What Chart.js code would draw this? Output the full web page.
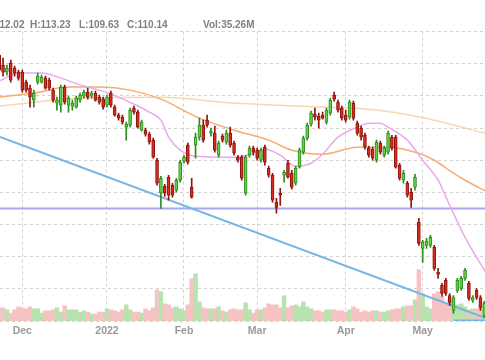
<!DOCTYPE html>
<html>
<head>
<meta charset="utf-8">
<script src="https://cdn.jsdelivr.net/npm/chart.js@4/dist/chart.umd.min.js"></script>
<style>
    html, body { margin: 0; padding: 0; background: #fff; overflow: hidden; }
    #wrap { position: relative; width: 485px; height: 360px; overflow: hidden; }
    .quote { position: absolute; top: 18.5px; font: bold 10px "Liberation Sans", Arial, sans-serif;
             color: #808080; white-space: nowrap; line-height: 12px; }
</style>
</head>
<body>
<div id="wrap">
    <canvas id="js--chart" width="485" height="360"></canvas>
    <span class="quote" style="left:-16.7px">O:112.02</span>
    <span class="quote" style="left:30px">H:113.23</span>
    <span class="quote" style="left:79px">L:109.63</span>
    <span class="quote" style="left:127px">C:110.14</span>
    <span class="quote" style="left:203px">Vol:35.26M</span>
</div>
<script>
// trading day index 0 = 1 Dec 2021, the first candle is 6 sessions earlier
const firstDay = -6

const opens = [146.36,144.80,143.71,145.11,144.33,143.71,
    143.71,142.15,141.22,139.35,142.15,142.15,142.77,142.46,140.90,138.88,
    138.57,141.37,138.57,138.41,138.26,139.35,139.97,140.59,139.97,140.44,
    139.81,139.50,138.57,140.44,138.26,137.01,136.70,135.14,135.45,138.10,
    137.48,134.67,134.67,134.05,133.12,130.00,124.86,125.95,127.35,126.11,
    125.33,126.89,129.85,132.34,125.80,132.34,133.58,135.45,136.23,134.21,
    134.21,130.78,133.74,132.80,134.21,132.65,130.47,130.47,124.86,130.78,
    131.87,131.56,130.00,132.03,128.75,127.66,123.46,124.86,127.66,129.53,
    127.98,126.42,128.91,131.25,133.43,135.61,137.17,136.85,137.01,135.92,
    137.32,140.13,139.03,138.10,137.01,136.70,138.88,135.76,134.99,133.89,
    131.87,131.71,130.00,132.65,130.78,131.25,133.58,133.58,129.22,126.89,
    126.42,125.02,125.80,120.34,116.29,116.76,116.76,116.45,112.56,110.53,
    111.31,108.97,106.64,109.75,110.06,111.62,110.84,108.19,109.75,108.66,
    105.86]

const highs = [147.13,145.89,144.80,145.58,144.64,144.02,
    144.02,142.46,141.68,140.90,143.55,143.24,143.08,142.77,141.22,139.81,
    141.68,141.68,139.97,139.35,139.97,140.44,140.90,141.22,140.75,140.75,
    140.13,139.81,140.13,140.75,138.57,137.32,137.01,135.92,138.10,138.41,
    137.79,136.23,134.99,134.36,133.43,130.31,127.51,126.26,127.66,126.42,
    127.20,130.00,130.78,132.65,127.20,134.21,136.54,136.23,137.01,134.99,
    135.30,132.96,134.05,134.67,135.14,132.96,130.78,130.78,130.78,132.18,
    132.18,131.87,131.87,132.34,129.07,127.98,124.08,125.64,128.44,130.00,
    128.44,129.07,131.87,133.74,135.76,137.63,138.10,137.32,137.48,138.10,
    139.66,140.59,139.35,138.41,137.79,139.35,139.19,136.08,135.30,134.21,
    132.18,132.03,133.12,132.96,132.18,134.52,133.89,133.89,129.53,128.44,
    126.73,125.64,127.82,120.97,117.54,117.85,118.32,116.76,113.18,110.84,
    111.62,109.28,108.97,111.62,111.93,113.18,111.15,108.97,110.06,108.97,
    108.04]

const lows = [143.40,143.08,143.24,142.15,143.08,142.46,
    140.59,140.59,138.26,138.26,141.84,141.99,141.06,140.90,139.03,137.79,
    137.48,138.72,137.48,137.79,138.10,139.03,139.66,139.50,139.66,139.19,
    138.72,137.94,138.26,138.26,136.85,136.23,135.61,133.12,135.14,137.17,
    134.99,134.52,133.74,132.49,130.31,126.11,122.52,124.39,123.77,124.24,
    125.02,126.57,129.53,129.38,124.08,130.31,133.12,132.80,135.14,133.74,
    131.25,130.47,132.80,132.49,132.03,130.78,129.69,126.89,124.55,130.47,
    130.78,130.00,129.69,129.22,127.35,123.46,121.75,122.99,126.57,127.20,
    125.48,126.11,128.75,130.94,133.12,135.30,136.23,134.99,136.39,135.61,
    137.01,139.19,137.48,136.23,135.92,136.39,136.23,133.89,133.12,131.71,
    130.47,130.00,129.69,130.94,130.47,130.94,131.56,128.75,126.89,126.42,
    124.24,122.68,125.33,116.76,114.11,116.29,116.45,112.87,111.62,108.82,
    108.97,107.42,106.17,109.44,109.75,111.31,108.19,107.88,108.35,106.64,
    105.55]

const closes = [144.02,143.71,144.33,142.46,143.55,142.77,
    140.90,140.90,139.81,140.44,143.08,142.93,141.22,141.22,139.35,139.35,
    141.37,139.03,139.66,138.88,139.66,140.13,140.59,139.81,140.44,139.35,
    139.03,138.26,139.81,138.57,137.01,136.54,135.92,135.61,137.79,137.48,
    135.14,135.92,134.05,132.80,130.47,126.42,127.20,124.86,124.55,124.55,
    126.89,129.69,130.47,129.69,124.24,133.58,135.45,133.12,135.45,134.52,
    131.56,132.65,133.12,134.21,132.34,131.09,130.00,127.20,130.47,131.87,
    131.25,130.31,131.56,129.69,127.66,123.77,122.68,124.55,128.13,127.35,
    125.80,128.75,131.56,133.43,135.45,137.32,136.70,136.23,136.54,137.79,
    139.35,139.50,137.79,136.54,136.23,139.03,136.54,134.21,133.58,132.03,
    130.78,130.31,132.80,131.25,131.87,134.21,131.87,128.91,127.20,127.98,
    124.55,123.77,127.35,117.07,117.23,117.38,118.01,113.18,112.24,109.28,
    109.28,107.88,108.66,111.31,111.62,112.87,108.51,108.66,108.66,107.10,
    107.73]

// volume in millions
const volumes = [32.5,32.5,27.5,20,27.5,35,
    32.5,30,35,30,30,20,25,25,27.5,32.5,
    22.5,37.5,27.5,27.5,27.5,22.5,25,22.5,17.5,17.5,
    22.5,22.5,30,27.5,25,22.5,27.5,40,27.5,22.5,
    22.5,20,30,25,32.5,77.5,72.5,42.5,40,32.5,
    35,30,25,40,105,117.5,47.5,32.5,30,30,
    30,35,25,22.5,27.5,30,27.5,27.5,45,27.5,
    20,27.5,27.5,32.5,42.5,40,40,32.5,62.5,32.5,
    37.5,40,35,47.5,35,30,25,25,22.5,27.5,
    27.5,27.5,25,25,22.5,27.5,35,30,22.5,25,
    22.5,25,25,22.5,22.5,25,27.5,30,30,35,
    37.5,37.5,52.5,127.5,67.5,35,30,67.5,72.5,60,
    42.5,52.5,40,40,42.5,35,27.5,30,30,40,
    35.26]

const monthTicks = [0, 22, 42, 61, 84, 104]
const monthLabels = ["Dec", "2022", "Feb", "Mar", "Apr", "May"]

// moving averages
const ma20Days = [-6, -1, 5, 10, 16, 20, 25, 29, 33, 36, 38, 41, 45, 56, 60, 63, 67, 71, 75, 78, 82, 87, 90, 93, 95, 100, 104, 108, 111, 115, 121]
const ma20 = [142.30, 143.55, 143.55, 142.77, 141.53, 140.90, 139.81, 138.72, 137.48, 136.23, 133.58, 131.56, 130.62, 130.47, 131.09, 131.71, 130.78, 129.07, 129.53, 130.94, 133.58, 135.14, 135.76, 135.76, 135.14, 133.12, 130.00, 126.89, 122.99, 118.01, 111.93]

const ma50Days = [-6, 3, 12, 20, 28, 36, 46, 55, 64, 70, 78, 87, 95, 103, 107, 112, 115, 121]
const ma50 = [139.81, 140.44, 141.37, 141.37, 140.90, 139.50, 136.54, 134.67, 133.12, 131.56, 130.94, 132.03, 132.03, 131.09, 130.00, 127.98, 126.89, 125.02]

const ma200Days = [-6, 16, 36, 55, 78, 87, 98, 107, 121]
const ma200 = [138.41, 139.66, 139.81, 138.88, 138.26, 138.10, 137.32, 136.23, 134.05]

const trendDays = [-5.79, 120.18]
const trendPrices = [133.63, 105.50]
const supportPrice = 122.48
const floorDays = [112, 121]
const floorPrice = 105.08

const days = opens.map(function (o, k) { return firstDay + k })
const isUp = opens.map(function (o, k) { return closes[k] >= o })

const upFill = "#63d43f"
const upEdge = "#2f8a22"
const downFill = "#d92b1e"
const downEdge = "#8c160e"

function points(xs, ys) {
    return xs.map(function (x, k) { return { x: x, y: ys[k] } })
}

Chart.defaults.font.family = "'Liberation Sans', Arial, sans-serif"

const data = {
    datasets: [
        {
            type: "bar",
            data: days.map(function (d, k) { return { x: d, y: [opens[k], closes[k]] } }),
            backgroundColor: isUp.map(function (u) { return u ? upFill : downFill }),
            borderColor: isUp.map(function (u) { return u ? upEdge : downEdge }),
            borderWidth: 1,
            borderSkipped: false,
            barThickness: 3,
            minBarLength: 1,
            grouped: false,
            order: 0
        },
        {
            type: "bar",
            data: days.map(function (d, k) { return { x: d, y: [lows[k], highs[k]] } }),
            backgroundColor: isUp.map(function (u) { return u ? upEdge : downEdge }),
            borderWidth: 0,
            barThickness: 1,
            grouped: false,
            order: 1
        },
        {
            type: "line",
            data: points(ma20Days, ma20),
            borderColor: "#eaa8ec",
            borderWidth: 1.5,
            pointRadius: 0,
            cubicInterpolationMode: "monotone",
            order: 2
        },
        {
            type: "line",
            data: points(ma50Days, ma50),
            borderColor: "#f6ab72",
            borderWidth: 1.5,
            pointRadius: 0,
            cubicInterpolationMode: "monotone",
            order: 3
        },
        {
            type: "line",
            data: points(ma200Days, ma200),
            borderColor: "#f8d8b0",
            borderWidth: 1.5,
            pointRadius: 0,
            cubicInterpolationMode: "monotone",
            order: 4
        },
        {
            type: "line",
            data: points(trendDays, trendPrices),
            borderColor: "#72b6e6",
            borderWidth: 2,
            pointRadius: 0,
            order: 5
        },
        {
            type: "line",
            data: points([-6, 121], [supportPrice, supportPrice]),
            borderColor: "#aaa6ec",
            borderWidth: 2,
            pointRadius: 0,
            order: 6
        },
        {
            type: "line",
            data: points(floorDays, [floorPrice, floorPrice]),
            borderColor: "#72b6e6",
            borderWidth: 2,
            pointRadius: 0,
            order: 7
        },
        {
            type: "bar",
            yAxisID: "vol",
            data: points(days, volumes),
            backgroundColor: isUp.map(function (u) { return u ? "#b8e2ae" : "#f5c3c1" }),
            borderWidth: 0,
            barPercentage: 1,
            categoryPercentage: 1,
            grouped: false,
            order: 10
        }
    ]
}

const config = {
    type: "bar",
    data: data,
    options: {
        responsive: false,
        animation: false,
        events: [],
        layout: { padding: { top: 31.6, bottom: 18.4, left: 0, right: 0 } },
        plugins: { legend: { display: false }, tooltip: { enabled: false } },
        scales: {
            x: {
                type: "linear",
                offset: false,
                min: -5.79,
                max: 120.18,
                afterBuildTicks: function (scale) {
                    scale.ticks = monthTicks.map(function (v) { return { value: v } })
                },
                ticks: {
                    autoSkip: false,
                    maxRotation: 0,
                    padding: 4,
                    color: "#999",
                    font: { size: 10.5, weight: "bold" },
                    callback: function (v) { return monthLabels[monthTicks.indexOf(v)] }
                },
                grid: { color: "#d2d2d2", drawTicks: false, offset: false },
                border: { display: false, dash: [3, 3] }
            },
            y: {
                position: "left",
                min: 105,
                max: 150,
                ticks: { display: false, stepSize: 5 },
                grid: { color: "#d2d2d2", drawTicks: false },
                border: { display: false, dash: [3, 3] }
            },
            vol: {
                display: false,
                min: 0,
                max: 720
            }
        }
    }
}

new Chart(document.getElementById("js--chart"), config)
</script>
</body>
</html>
